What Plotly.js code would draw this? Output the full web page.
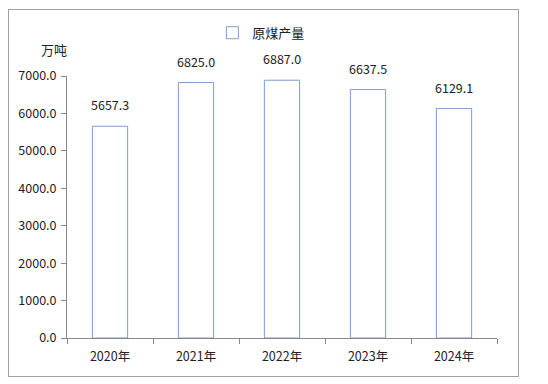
<!DOCTYPE html>
<html>
<head>
<meta charset="utf-8">
<script src="https://cdn.plot.ly/plotly-3.0.1.min.js"></script>
<style>
html,body{margin:0;padding:0;background:#fff;}
#wrap{position:relative;width:548px;height:384px;}
#chart{position:absolute;left:0;top:0;width:548px;height:384px;}
#frame{position:absolute;left:8px;top:9px;width:509px;height:366px;border:1px solid #a0a0a0;pointer-events:none;}
</style>
</head>
<body>
<div id="wrap"><div id="chart"></div><div id="frame"></div></div>
<script>
const categories = ['2020年','2021年','2022年','2023年','2024年'];
const coalOutput = [5657.3, 6825.0, 6887.0, 6637.5, 6129.1];
const seriesName = '原煤产量';
const yTickVals = [0,1000,2000,3000,4000,5000,6000,7000];

const FONT = '"Noto Sans CJK SC", "Noto Sans", sans-serif';

const trace = {
  type: 'bar',
  x: categories,
  y: coalOutput,
  name: seriesName,
  width: 0.41,
  marker: {color: '#ffffff', line: {color: '#7f9ccb', width: 1}},
  showlegend: true,
  hoverinfo: 'x+y'
};

const annotations = categories.map((c, i) => ({
  x: c, y: coalOutput[i], xref: 'x', yref: 'y',
  text: coalOutput[i].toFixed(1),
  showarrow: false, yanchor: 'bottom', yshift: 10,
  font: {family: FONT, size: 12.5, color: '#222'}
}));
annotations.push({
  x: -0.03, y: 1.10, xref: 'paper', yref: 'paper',
  text: '万吨', showarrow: false, xanchor: 'center', yanchor: 'middle',
  font: {family: FONT, size: 13, color: '#222'}
});

const layout = {
  width: 548, height: 384,
  margin: {l: 67, r: 51, t: 76, b: 46},
  paper_bgcolor: 'rgba(0,0,0,0)',
  plot_bgcolor: '#ffffff',
  font: {family: FONT, size: 12, color: '#222'},
  showlegend: true,
  legend: {
    orientation: 'h', x: 0.452, xanchor: 'center', y: 1.165, yanchor: 'middle',
    font: {family: FONT, size: 13, color: '#222'}, itemwidth: 30,
    bgcolor: 'rgba(0,0,0,0)'
  },
  xaxis: {
    type: 'category',
    showline: true, linecolor: '#888', linewidth: 1,
    ticks: 'outside', tickson: 'boundaries', ticklen: 5, tickcolor: '#888',
    ticklabelstandoff: 7,
    showgrid: false, zeroline: false,
    tickfont: {family: FONT, size: 12.5, color: '#222'}
  },
  yaxis: {
    range: [0, 7000], tickvals: yTickVals,
    tickformat: '.1f',
    showline: true, linecolor: '#888', linewidth: 1,
    ticks: 'outside', ticklen: 5, tickcolor: '#888',
    ticklabelstandoff: 2,
    showgrid: false, zeroline: false,
    tickfont: {family: FONT, size: 12.5, color: '#222'}
  },
  annotations: annotations,
  bargap: 0.59
};

Plotly.newPlot('chart', [trace], layout, {displayModeBar: false, staticPlot: true});
</script>
</body>
</html>
